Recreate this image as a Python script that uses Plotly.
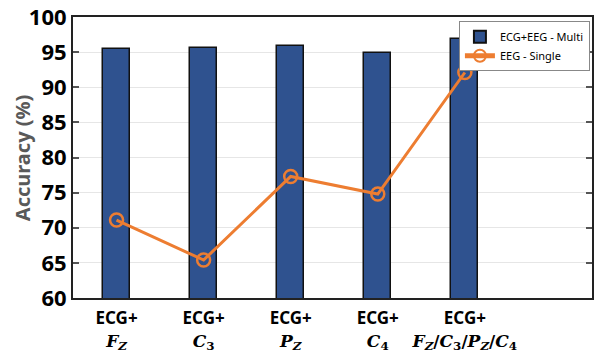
import plotly.graph_objects as go

categories = ["Fz", "C3", "Pz", "C4", "All"]
tick_top = ["ECG+", "ECG+", "ECG+", "ECG+", "ECG+"]
tick_bottom = [
    "<i>F</i><sub><i>Z</i></sub>",
    "<i>C</i><sub>3</sub>",
    "<i>P</i><sub><i>Z</i></sub>",
    "<i>C</i><sub>4</sub>",
    "<i>F</i><sub><i>Z</i></sub>/<i>C</i><sub>3</sub>/<i>P</i><sub><i>Z</i></sub>/<i>C</i><sub>4</sub>",
]
multi_acc = [95.4, 95.6, 95.9, 94.9, 96.8]
single_acc = [71.1, 65.4, 77.3, 74.8, 92.1]
y_ticks = [60, 65, 70, 75, 80, 85, 90, 95, 100]
y_title = "Accuracy (%)"

xpos = list(range(len(categories)))
ticktext = [
    f"<b>{a}</b><br><span style='font-family:DejaVu Serif'><b>{b}</b></span>"
    for a, b in zip(tick_top, tick_bottom)
]

fig = go.Figure()
fig.add_trace(go.Bar(
    x=xpos, y=multi_acc, name="ECG+EEG - Multi",
    width=0.31, marker=dict(color="#2F528F", line=dict(color="#111111", width=1.5)),
))
fig.add_trace(go.Scatter(
    x=xpos, y=single_acc, name="EEG - Single", mode="lines+markers",
    line=dict(color="#ED7D31", width=3),
    marker=dict(symbol="circle-open", size=13, color="#ED7D31", line=dict(width=2.5, color="#ED7D31")),
))

fig.update_layout(
    width=596, height=352,
    margin=dict(l=73, r=4, t=17, b=54, autoexpand=False),
    plot_bgcolor="white", paper_bgcolor="white",
    font=dict(family="Noto Sans", color="black"),
    showlegend=True,
    legend=dict(
        x=0.996, y=0.985, xanchor="right", yanchor="top",
        bgcolor="white", bordercolor="#888888", borderwidth=1,
        font=dict(size=11, family="Noto Sans", color="black"),
        tracegroupgap=0, itemsizing="constant", itemwidth=30,
    ),
    bargap=0,
    annotations=[dict(
        text=f"<b>{y_title}</b>", xref="paper", yref="paper",
        x=-0.097, y=0.5, xanchor="center", yanchor="middle", textangle=-90,
        showarrow=False, font=dict(size=20, color="#595959", family="Noto Sans"),
    )],
)
fig.update_xaxes(
    range=[-0.5, 5.46], tickvals=xpos, ticktext=ticktext, automargin=False,
    tickfont=dict(size=17, family="Noto Sans", color="black"),
    showline=True, linecolor="#222222", linewidth=2, mirror=True,
    ticks="", showgrid=False, zeroline=False, ticklabelstandoff=4,
)
fig.update_yaxes(
    range=[60, 100], tickvals=y_ticks, automargin=False,
    tickfont=dict(size=22, family="Noto Sans", color="black", weight="bold"),
    showline=True, linecolor="#222222", linewidth=2, mirror="allticks",
    ticks="inside", ticklen=6, tickwidth=1.5, tickcolor="#555555",
    showgrid=True, gridcolor="#e6e6e6", gridwidth=1, zeroline=False,
)

fig.write_html(
    "out.html",
    config={"displayModeBar": False},
    post_script="document.body.style.margin='0';document.body.style.padding='0';",
)
